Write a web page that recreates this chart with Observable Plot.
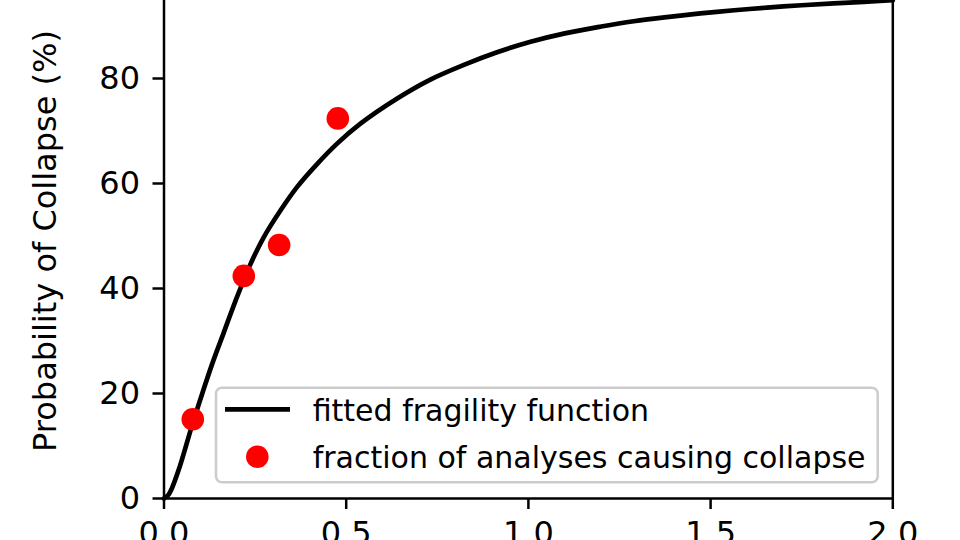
<!DOCTYPE html>
<html>
<head>
<meta charset="utf-8">
<script src="https://cdn.jsdelivr.net/npm/d3@7"></script>
<script src="https://cdn.jsdelivr.net/npm/@observablehq/plot@0.6"></script>
<style>
  html, body { margin: 0; padding: 0; background: white; }
  #chart { width: 960px; height: 540px; overflow: hidden; }
  #chart svg { overflow: hidden; display: block; }
</style>
</head>
<body>
<div id="chart"></div>
<script>
// fitted fragility curve
const curveX = [0, 0.011, 0.022, 0.041, 0.059, 0.079, 0.105, 0.132, 0.164, 0.196, 0.237, 0.274, 0.320, 0.366, 0.420, 0.475, 0.539, 0.640, 0.731, 0.823, 0.914, 1.006, 1.100, 1.200, 1.289, 1.380, 1.472, 1.565, 1.655, 1.750, 1.838, 1.920, 2.0];
const curveY = [0, 0.6, 2.0, 5.6, 9.7, 14.4, 20.0, 25.6, 31.6, 37.6, 44.6, 49.8, 54.9, 59.4, 63.7, 67.6, 71.4, 76.2, 79.8, 82.6, 85.0, 87.0, 88.6, 89.9, 90.9, 91.7, 92.4, 93.0, 93.5, 93.95, 94.3, 94.6, 94.9];
// observed fractions of analyses causing collapse
const pointX = [0.079, 0.219, 0.316, 0.477];
const pointY = [15.1, 42.4, 48.3, 72.4];
const xTicks = [0, 0.5, 1.0, 1.5, 2.0];
const yTicks = [0, 20, 40, 60, 80];
const legendLabels = ["fitted fragility function", "fraction of analyses causing collapse"];
const yLabel = "Probability of Collapse (%)";

const curve = curveX.map((x, i) => ({x, y: curveY[i]}));
const points = pointX.map((x, i) => ({x, y: pointY[i]}));

const FONT = "DejaVu Sans";
const svg = Plot.plot({
  width: 960,
  height: 540,
  marginLeft: 163.5,
  marginRight: 67.7,
  marginTop: 0,
  marginBottom: 42,
  style: {fontFamily: FONT, background: "white"},
  x: {domain: [0, 2]},
  y: {domain: [0, 100], range: [498, -27]},
  marks: [
    Plot.line(curve, {x: "x", y: "y", stroke: "black", strokeWidth: 4.7, curve: "catmull-rom"}),
    Plot.dot(points, {x: "x", y: "y", r: 11.3, fill: "#ff0000", stroke: "none"}),
    Plot.ruleX([0, 2], {y1: 0, y2: 100, stroke: "black", strokeWidth: 2.5}),
    Plot.ruleY([0], {stroke: "black", strokeWidth: 2.5}),
    Plot.axisX({ticks: xTicks, tickFormat: d3.format(".1f"), tickSize: 11, tickPadding: 12, fontSize: 32, strokeWidth: 2.5, label: null, fill: "black"}),
    Plot.axisY({ticks: yTicks, tickFormat: d3.format("d"), tickSize: 11, tickPadding: 13, fontSize: 32, strokeWidth: 2.5, label: null, fill: "black"})
  ]
});

const s = d3.select(svg);
// y axis label
s.append("text")
  .attr("transform", "translate(56,241) rotate(-90)")
  .attr("text-anchor", "middle")
  .attr("font-family", FONT)
  .attr("font-size", 32)
  .attr("fill", "black")
  .text(yLabel);

// legend
const lg = s.append("g");
lg.append("rect")
  .attr("x", 216).attr("y", 387.7).attr("width", 661.7).attr("height", 94.6)
  .attr("rx", 6).attr("fill", "white").attr("fill-opacity", 0.8)
  .attr("stroke", "#cccccc").attr("stroke-width", 2.5);
lg.append("line")
  .attr("x1", 225).attr("x2", 290).attr("y1", 409.3).attr("y2", 409.3)
  .attr("stroke", "black").attr("stroke-width", 4.7);
lg.append("circle")
  .attr("cx", 257.3).attr("cy", 456.7).attr("r", 11.3).attr("fill", "#ff0000");
[409.3, 456.7].forEach((cy, i) => {
  lg.append("text")
    .attr("x", 312.7).attr("y", cy + 11.4)
    .attr("text-anchor", "start")
    .attr("font-family", FONT).attr("font-size", 30).attr("fill", "black")
    .text(legendLabels[i]);
});

document.getElementById("chart").appendChild(svg);
</script>
</body>
</html>
